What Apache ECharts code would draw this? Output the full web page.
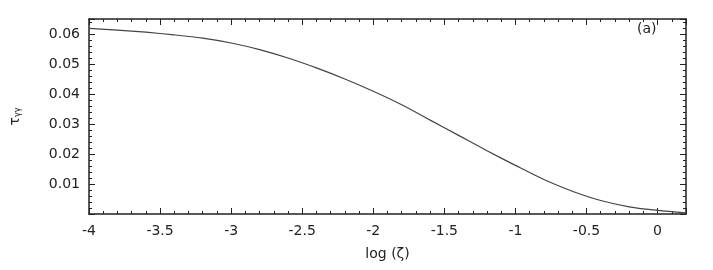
<!DOCTYPE html>
<html>
<head>
<meta charset="utf-8">
<script src="https://cdn.jsdelivr.net/npm/echarts@6/dist/echarts.min.js"></script>
<style>html,body{margin:0;padding:0;background:#fff;}#c{width:713px;height:270px;}</style>
</head>
<body>
<div id="c"></div>
<script>
const logZeta = [-4.0,-3.8,-3.6,-3.4,-3.2,-3.0,-2.8,-2.6,-2.4,-2.2,-2.0,-1.8,-1.6,-1.4,-1.2,-1.0,-0.8,-0.6,-0.4,-0.2,0.0,0.2];
const tauYY = [0.0619,0.0613,0.0606,0.0597,0.0586,0.0570,0.0548,0.0520,0.0487,0.0450,0.0409,0.0364,0.0313,0.0262,0.0211,0.0162,0.0115,0.0076,0.0045,0.0024,0.0012,0.0004];
const xTickLabels = ['-4','-3.5','-3','-2.5','-2','-1.5','-1','-0.5','0'];
const yTickLabels = ['0.01','0.02','0.03','0.04','0.05','0.06'];
const panelLabel = '(a)';

const font = 'DejaVu Sans';
const axisCol = '#222';
const chart = echarts.init(document.getElementById('c'));
function baseX(pos, labels){
  return {
    type:'value', position:pos, min:-4, max:0.2, interval:0.5,
    axisLine:{show:true, onZero:false, lineStyle:{color:axisCol,width:1.5}},
    axisTick:{show:true, inside:true, length:6, lineStyle:{color:axisCol,width:1}},
    minorTick:{show:true, splitNumber:5, length:3, lineStyle:{color:axisCol,width:1}},
    splitLine:{show:false},
    axisLabel:{show:labels, margin:10, fontFamily:font, fontSize:14, color:axisCol,
      formatter:function(v){const s=String(Math.round(v*10)/10); return xTickLabels.indexOf(s)>=0?s:'';}},
    name: labels ? 'log (ζ)' : '', nameLocation:'middle', nameGap:33,
    nameTextStyle:{fontFamily:font, fontSize:14, color:axisCol}
  };
}
function baseY(pos, labels){
  return {
    type:'value', position:pos, min:0, max:0.065, interval:0.01,
    axisLine:{show:true, onZero:false, lineStyle:{color:axisCol,width:1.5}},
    axisTick:{show:true, inside:true, length:6, lineStyle:{color:axisCol,width:1}},
    minorTick:{show:true, splitNumber:5, length:3, lineStyle:{color:axisCol,width:1}},
    splitLine:{show:false},
    axisLabel:{show:labels, margin:9, fontFamily:font, fontSize:14, color:axisCol,
      formatter:function(v){const s=v.toFixed(2); return yTickLabels.indexOf(s)>=0?s:'';}},
    name: labels ? '{a|τ}{b|γγ}' : '', nameLocation:'middle', nameGap:67, nameRotate:90,
    nameTextStyle:{rich:{a:{fontFamily:font,fontSize:14,color:axisCol},b:{fontFamily:font,fontSize:8,color:axisCol,padding:[6,0,0,0]}}}
  };
}
chart.setOption({
  animation:false,
  grid:{left:85, right:27, top:19, bottom:56, containLabel:false},
  xAxis:[baseX('bottom',true), baseX('top',false)],
  yAxis:[baseY('left',true), baseY('right',false)],
  graphic:[{type:'text', left:637, top:22, style:{text:panelLabel, fontFamily:font, fontSize:14, fill:axisCol}}],
  series:[{
    type:'line', xAxisIndex:0, yAxisIndex:0, showSymbol:false, smooth:0.3,
    lineStyle:{color:'#444', width:1.2},
    data: logZeta.map((x,i)=>[x,tauYY[i]])
  }]
});
</script>
</body>
</html>
